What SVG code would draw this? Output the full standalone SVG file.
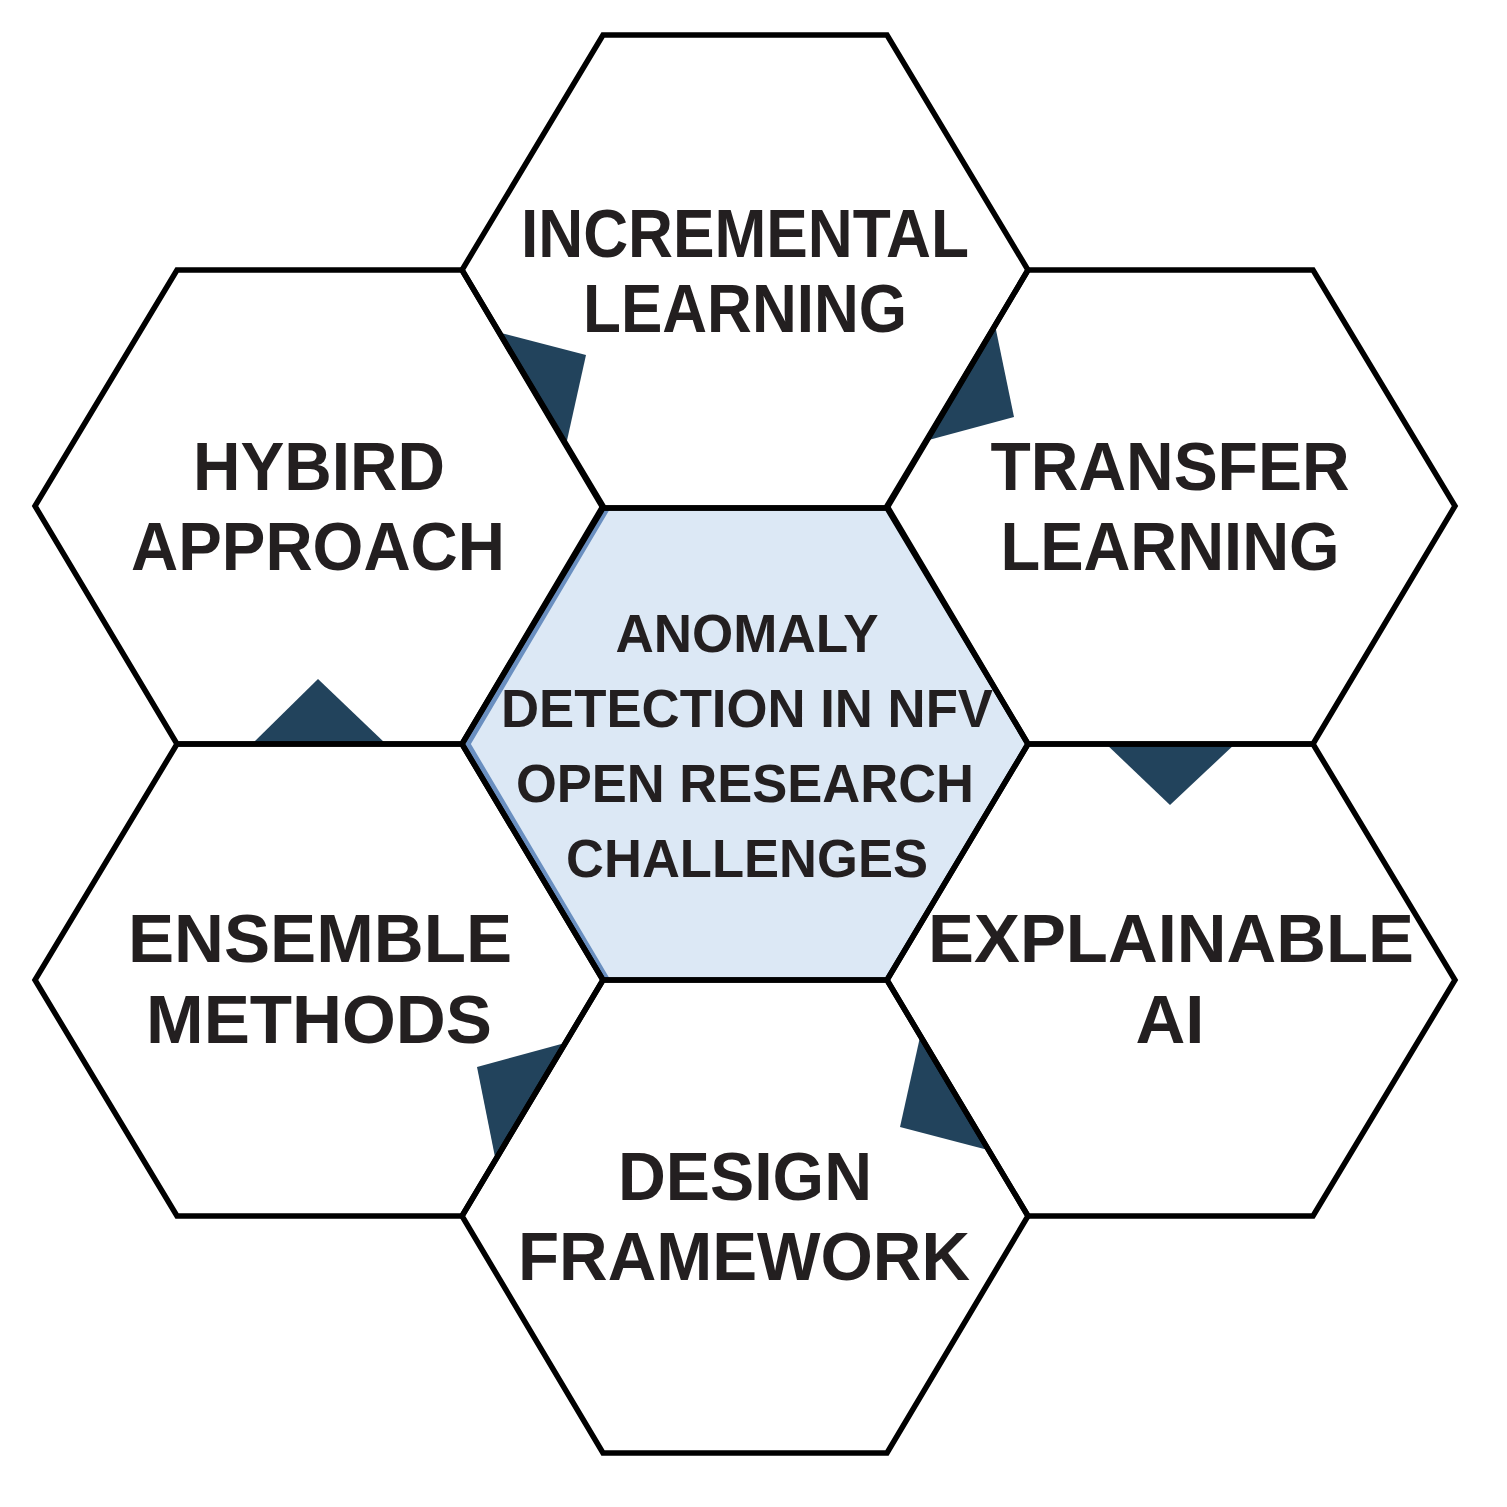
<svg xmlns="http://www.w3.org/2000/svg" width="1507" height="1507" viewBox="0 0 1507 1507">
<style>
.hex{fill:none;stroke:#000;stroke-width:5.5;stroke-linejoin:miter}
.tri{fill:#22435c}
.lbl{font-family:"Liberation Sans",Arial,sans-serif;font-weight:bold;font-size:68px;fill:#231f20;text-anchor:middle}
.ctr{font-family:"Liberation Sans",Arial,sans-serif;font-weight:bold;font-size:54px;fill:#231f20;text-anchor:middle}
</style>
<rect width="1507" height="1507" fill="#fff"/>
<g id="center-fill">
<polygon points="607,508 887,508 1028,744 887,980 607,980 468,744" fill="#dce8f5"/>
<polyline points="607,509 468,744 607,979" fill="none" stroke="#6a8fc0" stroke-width="5"/>
</g>
<g id="connectors">
<polygon class="tri" points="497,332 586,355 566,445"/>
<polygon class="tri" points="995,325 1014,417 925,441"/>
<polygon class="tri" points="318,679 252,744 386,744"/>
<polygon class="tri" points="1104,742 1237,742 1170,805"/>
<polygon class="tri" points="477,1067 565,1043 495,1157"/>
<polygon class="tri" points="920,1037 900,1127 988,1150"/>
</g>
<g id="node-center">
<polygon class="hex" points="603,508 887,508 1028,744 887,980 603,980 462,744"/>
<text class="ctr" x="747" y="652" textLength="263" lengthAdjust="spacingAndGlyphs">ANOMALY</text>
<text class="ctr" x="747" y="727" textLength="492" lengthAdjust="spacingAndGlyphs">DETECTION IN NFV</text>
<text class="ctr" x="745" y="802" textLength="458" lengthAdjust="spacingAndGlyphs">OPEN RESEARCH</text>
<text class="ctr" x="747" y="877" textLength="362" lengthAdjust="spacingAndGlyphs">CHALLENGES</text>
</g>
<g id="node-incremental">
<polygon class="hex" points="603,35 887,35 1028,270 887,508 603,508 462,270"/>
<text class="lbl" x="745" y="257" textLength="448" lengthAdjust="spacingAndGlyphs">INCREMENTAL</text>
<text class="lbl" x="745" y="332" textLength="324" lengthAdjust="spacingAndGlyphs">LEARNING</text>
</g>
<g id="node-hybird">
<polygon class="hex" points="177,270 462,270 603,506 462,744 177,744 35,506"/>
<text class="lbl" x="319" y="490" textLength="252" lengthAdjust="spacingAndGlyphs">HYBIRD</text>
<text class="lbl" x="318" y="570" textLength="374" lengthAdjust="spacingAndGlyphs">APPROACH</text>
</g>
<g id="node-transfer">
<polygon class="hex" points="1028,270 1313,270 1455,506 1313,744 1028,744 887,506"/>
<text class="lbl" x="1170" y="490" textLength="359" lengthAdjust="spacingAndGlyphs">TRANSFER</text>
<text class="lbl" x="1170" y="570" textLength="339" lengthAdjust="spacingAndGlyphs">LEARNING</text>
</g>
<g id="node-ensemble">
<polygon class="hex" points="177,744 462,744 603,980 462,1216 177,1216 35,980"/>
<text class="lbl" x="320" y="962" textLength="384" lengthAdjust="spacingAndGlyphs">ENSEMBLE</text>
<text class="lbl" x="319" y="1043" textLength="346" lengthAdjust="spacingAndGlyphs">METHODS</text>
</g>
<g id="node-explainable">
<polygon class="hex" points="1028,744 1313,744 1455,980 1313,1216 1028,1216 887,980"/>
<text class="lbl" x="1171" y="962" textLength="486" lengthAdjust="spacingAndGlyphs">EXPLAINABLE</text>
<text class="lbl" x="1170" y="1043" textLength="69" lengthAdjust="spacingAndGlyphs">AI</text>
</g>
<g id="node-design">
<polygon class="hex" points="603,980 887,980 1028,1216 887,1453 603,1453 462,1216"/>
<text class="lbl" x="745" y="1200" textLength="254" lengthAdjust="spacingAndGlyphs">DESIGN</text>
<text class="lbl" x="744" y="1280" textLength="452" lengthAdjust="spacingAndGlyphs">FRAMEWORK</text>
</g>
</svg>
